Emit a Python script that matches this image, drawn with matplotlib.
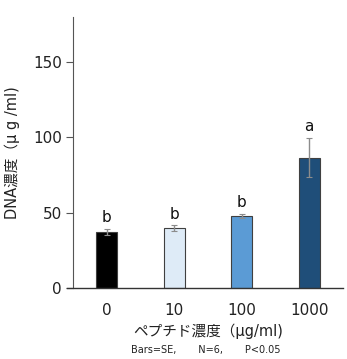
import matplotlib
matplotlib.use("Agg")
import matplotlib.pyplot as plt

plt.rcParams['font.family'] = ['DejaVu Sans', 'Noto Sans CJK JP']

# --- データ ---
doses = ['0', '10', '100', '1000']
dna = [37.0, 39.6, 48.0, 86.5]
se = [2.0, 2.0, 1.3, 13.0]
letters = ['b', 'b', 'b', 'a']
colors = ['#000000', '#DEEBF7', '#5B9BD5', '#1F4E79']

fig = plt.figure(figsize=(3.47, 3.59), dpi=100)
ax = fig.add_axes([0.210, 0.198, 0.778, 0.755])

x = range(len(doses))
ax.bar(x, dna, width=0.31, color=colors, edgecolor='#404040', linewidth=0.8, zorder=2)
ax.errorbar(x, dna, yerr=se, fmt='none', ecolor='#8c8c8c', elinewidth=1.0,
            capsize=2, capthick=0.8, zorder=3)

for i, (v, e, s) in enumerate(zip(dna, se, letters)):
    ax.text(i, v + e + 2.5, s, ha='center', va='bottom', fontsize=11, color='#111111')

ax.set_xlim(-0.5, 3.5)
ax.set_ylim(0, 180)
ax.set_yticks([0, 50, 100, 150])
ax.set_xticks(list(x))
ax.set_xticklabels(doses)

for side in ['top', 'right', 'bottom']:
    ax.spines[side].set_visible(False)
ax.spines['left'].set_color('#555555')
ax.spines['left'].set_linewidth(0.8)
ax.axhline(0, xmin=-0.02, xmax=1.0, color='#333333', linewidth=1.0, clip_on=False, zorder=4)

ax.tick_params(axis='y', length=5, width=0.8, color='#555555', labelsize=11, labelcolor='#222222', pad=3)
ax.tick_params(axis='x', length=0, labelsize=11, labelcolor='#222222', pad=11)

ax.set_ylabel('DNA濃度（µ g /ml)', fontsize=10.5, color='#222222', labelpad=9)
ax.set_xlabel('ペプチド濃度（µg/ml)', fontsize=10.5, color='#222222', labelpad=4)
fig.text(0.592, 0.01, 'Bars=SE,       N=6,       P<0.05', ha='center', va='bottom',
         fontsize=7, color='#222222')

fig.savefig('out.png', dpi=100)
